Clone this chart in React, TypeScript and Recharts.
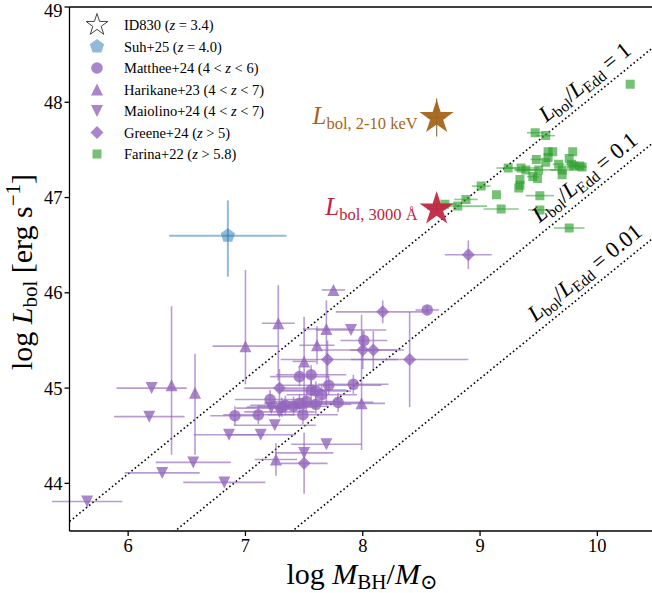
import React from 'react';
import { ScatterChart, Scatter, XAxis, YAxis, ErrorBar, ReferenceLine, ReferenceDot } from 'recharts';

// ---------- axes ----------
const X_DOMAIN: [number, number] = [5.5, 10.5];
const Y_DOMAIN: [number, number] = [43.5, 49];
const X_TICKS = [6, 7, 8, 9, 10];
const Y_TICKS = [44, 45, 46, 47, 48, 49];

// ---------- Eddington ratio lines ----------
const EDD_RATIOS = [1, 0.1, 0.01];
const EDD_LABELS = ['1', '0.1', '0.01'];
const LOG_LEDD_PER_MSUN = 38.1; // log10(1.26e38 erg/s)
const EDD_LABEL_M = 9.98;

// ---------- data ----------
type Pt = { m: number; l: number; xe: number | number[]; ye: number | number[] };

const id830Uv: Pt[] = [{ m: 8.63, l: 46.88, xe: 0.08, ye: 0.05 }];
const id830Xray: Pt[] = [{ m: 8.63, l: 47.84, xe: 0.08, ye: 0.2 }];

const suh25: Pt[] = [{ m: 6.85, l: 46.6, xe: 0.5, ye: [0.43, 0.37] }];

const matthee24: Pt[] = [
  { m: 8.55, l: 45.82, xe: 0.1, ye: 0.05 },
  { m: 8.01, l: 45.5, xe: 0.2, ye: 0.1 },
  { m: 7.46, l: 45.12, xe: 0.25, ye: 0.1 },
  { m: 7.56, l: 45.14, xe: 0.3, ye: 0.1 },
  { m: 7.71, l: 45.03, xe: 0.45, ye: 0.1 },
  { m: 7.92, l: 45.04, xe: 0.3, ye: 0.1 },
  { m: 7.56, l: 44.98, xe: 0.3, ye: 0.1 },
  { m: 7.6, l: 44.97, xe: 0.3, ye: 0.1 },
  { m: 7.65, l: 44.93, xe: 0.3, ye: 0.1 },
  { m: 7.21, l: 44.88, xe: 0.3, ye: 0.1 },
  { m: 7.79, l: 44.85, xe: 0.3, ye: 0.1 },
  { m: 6.91, l: 44.71, xe: 0.21, ye: 0.1 },
  { m: 7.11, l: 44.72, xe: 0.3, ye: 0.1 },
  { m: 7.34, l: 44.82, xe: 0.3, ye: 0.1 },
  { m: 7.41, l: 44.81, xe: 0.3, ye: 0.1 },
  { m: 7.46, l: 44.84, xe: 0.3, ye: 0.1 },
  { m: 7.49, l: 44.72, xe: 0.3, ye: 0.1 },
  { m: 7.52, l: 44.86, xe: 0.3, ye: 0.1 },
  { m: 7.31, l: 44.8, xe: 0.3, ye: 0.1 },
  { m: 7.6, l: 44.83, xe: 0.3, ye: 0.1 },
];

const harikane23: Pt[] = [
  { m: 6.37, l: 45.03, xe: 0, ye: [0.73, 0.83] },
  { m: 6.57, l: 44.95, xe: 0, ye: [0.65, 0.41] },
  { m: 7.0, l: 45.44, xe: 0.28, ye: [0.4, 0.8] },
  { m: 7.28, l: 45.68, xe: 0.14, ye: [0.6, 0.4] },
  { m: 7.75, l: 46.03, xe: 0.1, ye: 0 },
  { m: 7.5, l: 45.28, xe: 0.1, ye: [0.5, 0.47] },
  { m: 7.69, l: 45.62, xe: 0.2, ye: [0.8, 0.3] },
  { m: 7.61, l: 45.45, xe: 0.15, ye: 0.2 },
  { m: 7.99, l: 44.84, xe: 0.2, ye: [0.49, 0.93] },
  { m: 7.26, l: 44.25, xe: 0.18, ye: 0.17 },
];

const maiolino24: Pt[] = [
  { m: 5.65, l: 43.81, xe: 0.3, ye: 0 },
  { m: 6.2, l: 45.0, xe: 0.3, ye: 0 },
  { m: 6.18, l: 44.7, xe: 0.3, ye: 0 },
  { m: 6.86, l: 44.51, xe: 0.3, ye: 0 },
  { m: 7.13, l: 44.51, xe: 0.3, ye: 0 },
  { m: 6.555, l: 44.22, xe: 0.32, ye: 0 },
  { m: 6.29, l: 44.11, xe: 0.32, ye: 0 },
  { m: 6.82, l: 44.01, xe: 0.35, ye: 0 },
  { m: 7.9, l: 45.61, xe: 0.3, ye: 0 },
  { m: 7.22, l: 44.79, xe: 0.3, ye: 0 },
  { m: 7.25, l: 44.61, xe: 0.35, ye: 0 },
  { m: 7.29, l: 44.75, xe: 0.3, ye: 0 },
  { m: 7.69, l: 44.41, xe: 0.3, ye: 0 },
  { m: 7.5, l: 44.32, xe: 0.25, ye: 0 },
];

const greene24: Pt[] = [
  { m: 8.17, l: 45.8, xe: 0.4, ye: 0.12 },
  { m: 8.4, l: 45.3, xe: 0.5, ye: 0.5 },
  { m: 8.0, l: 45.4, xe: 0.35, ye: 0.2 },
  { m: 8.09, l: 45.4, xe: 0.2, ye: 0.2 },
  { m: 7.7, l: 45.3, xe: [0.4, 0.6], ye: 0.2 },
  { m: 7.29, l: 45.0, xe: 0.3, ye: 0.2 },
  { m: 7.5, l: 44.21, xe: 0.2, ye: 0.32 },
  { m: 8.9, l: 46.4, xe: 0.2, ye: 0.15 },
];

const farina22: Pt[] = [
  { m: 10.28, l: 48.19, xe: 0, ye: 0 },
  { m: 9.47, l: 47.68, xe: 0.07, ye: 0 },
  { m: 9.56, l: 47.65, xe: 0.08, ye: 0 },
  { m: 9.58, l: 47.48, xe: 0, ye: 0 },
  { m: 9.62, l: 47.48, xe: 0, ye: 0 },
  { m: 9.79, l: 47.48, xe: 0, ye: 0 },
  { m: 9.58, l: 47.42, xe: 0, ye: 0 },
  { m: 9.48, l: 47.4, xe: 0.05, ye: 0 },
  { m: 9.56, l: 47.37, xe: 0, ye: 0 },
  { m: 9.76, l: 47.41, xe: 0, ye: 0 },
  { m: 9.78, l: 47.35, xe: 0.05, ye: 0 },
  { m: 9.24, l: 47.31, xe: 0.1, ye: 0 },
  { m: 9.35, l: 47.31, xe: 0.15, ye: 0 },
  { m: 9.39, l: 47.29, xe: 0.1, ye: 0 },
  { m: 9.5, l: 47.29, xe: 0.2, ye: 0 },
  { m: 9.67, l: 47.35, xe: 0.05, ye: 0 },
  { m: 9.7, l: 47.29, xe: 0.1, ye: 0 },
  { m: 9.8, l: 47.33, xe: 0.05, ye: 0 },
  { m: 9.85, l: 47.33, xe: 0.05, ye: 0 },
  { m: 9.87, l: 47.32, xe: 0.04, ye: 0 },
  { m: 9.45, l: 47.22, xe: 0.05, ye: 0 },
  { m: 9.49, l: 47.2, xe: 0, ye: 0 },
  { m: 9.7, l: 47.24, xe: 0, ye: 0 },
  { m: 9.34, l: 47.19, xe: 0, ye: 0 },
  { m: 9.34, l: 47.13, xe: 0, ye: 0 },
  { m: 9.33, l: 47.1, xe: 0, ye: 0 },
  { m: 9.01, l: 47.12, xe: 0.08, ye: 0 },
  { m: 9.14, l: 47.03, xe: 0, ye: 0 },
  { m: 9.51, l: 47.02, xe: 0.12, ye: 0 },
  { m: 8.88, l: 46.98, xe: 0.1, ye: 0 },
  { m: 8.81, l: 46.91, xe: 0.25, ye: 0 },
  { m: 9.18, l: 46.88, xe: 0.15, ye: 0 },
  { m: 9.51, l: 46.87, xe: 0.1, ye: 0 },
  { m: 9.76, l: 46.68, xe: 0.13, ye: 0 },
  { m: 8.7, l: 46.93, xe: 0.1, ye: 0 },
];

// ---------- layout / style ----------
const CHART_W = 660;
const CHART_H = 593;
const MARGIN = { top: 7, right: 4, bottom: 0, left: 0 };
const YAXIS_W = 69.5;
const XAXIS_H = 62;
const PLOT_W = CHART_W - MARGIN.right - MARGIN.left - YAXIS_W;
const PLOT_H = CHART_H - MARGIN.top - MARGIN.bottom - XAXIS_H;
const LINE_ANGLE =
  (Math.atan((PLOT_H / (Y_DOMAIN[1] - Y_DOMAIN[0])) / (PLOT_W / (X_DOMAIN[1] - X_DOMAIN[0]))) * 180) / Math.PI;

const SERIF = '"Liberation Serif", "DejaVu Serif", serif';
const PURPLE = '#9467bd';
const GREEN = '#2ca02c';
const BLUE = '#1f77b4';
const RED = '#c0233e';
const BROWN = '#a4651b';

type Kind = 'star' | 'pentagon' | 'circle' | 'triUp' | 'triDown' | 'diamond' | 'square';

function polyD(cx: number, cy: number, pts: [number, number][]) {
  return pts.map((p, i) => `${i ? 'L' : 'M'}${(cx + p[0]).toFixed(2)},${(cy + p[1]).toFixed(2)}`).join('') + 'Z';
}

function markerD(kind: Kind, cx: number, cy: number, s: number): string {
  if (kind === 'star') {
    const pts: [number, number][] = [];
    for (let i = 0; i < 10; i++) {
      const a = -Math.PI / 2 + (i * Math.PI) / 5;
      const r = i % 2 === 0 ? s : s * 0.382;
      pts.push([r * Math.cos(a), r * Math.sin(a)]);
    }
    return polyD(cx, cy, pts);
  }
  if (kind === 'pentagon') {
    const pts: [number, number][] = [];
    for (let i = 0; i < 5; i++) {
      const a = -Math.PI / 2 + (i * 2 * Math.PI) / 5;
      pts.push([s * Math.cos(a), s * Math.sin(a)]);
    }
    return polyD(cx, cy, pts);
  }
  if (kind === 'triUp') return polyD(cx, cy, [[0, -s], [-s, s], [s, s]]);
  if (kind === 'triDown') return polyD(cx, cy, [[0, s], [-s, -s], [s, -s]]);
  if (kind === 'diamond') return polyD(cx, cy, [[0, -s], [s, 0], [0, s], [-s, 0]]);
  if (kind === 'square') return polyD(cx, cy, [[-s, -s], [s, -s], [s, s], [-s, s]]);
  return `M${cx - s},${cy}a${s},${s} 0 1,0 ${2 * s},0a${s},${s} 0 1,0 ${-2 * s},0Z`;
}

const makeShape = (kind: Kind, size: number, fill: string, opacity: number) => (p: any) => {
  if (p == null || p.cx == null || p.cy == null) return <g />;
  return <path d={markerD(kind, p.cx, p.cy, size)} fill={fill} fillOpacity={opacity} stroke="none" />;
};

type SeriesDef = {
  name: string;
  data: Pt[];
  kind: Kind;
  size: number;
  color: string;
  alpha: number;
  barColor: string;
  barAlpha: number;
  barWidth: number;
};

const SERIES: SeriesDef[] = [
  { name: 'Suh+25', data: suh25, kind: 'pentagon', size: 7.5, color: BLUE, alpha: 0.5, barColor: BLUE, barAlpha: 0.5, barWidth: 2 },
  { name: 'Matthee+24', data: matthee24, kind: 'circle', size: 5.8, color: PURPLE, alpha: 0.8, barColor: PURPLE, barAlpha: 0.65, barWidth: 1.6 },
  { name: 'Harikane+23', data: harikane23, kind: 'triUp', size: 6, color: PURPLE, alpha: 0.8, barColor: PURPLE, barAlpha: 0.65, barWidth: 1.6 },
  { name: 'Maiolino+24', data: maiolino24, kind: 'triDown', size: 6, color: PURPLE, alpha: 0.8, barColor: PURPLE, barAlpha: 0.65, barWidth: 1.6 },
  { name: 'Greene+24', data: greene24, kind: 'diamond', size: 6.5, color: PURPLE, alpha: 0.8, barColor: PURPLE, barAlpha: 0.65, barWidth: 1.6 },
  { name: 'Farina+22', data: farina22, kind: 'square', size: 4.5, color: GREEN, alpha: 0.65, barColor: GREEN, barAlpha: 0.55, barWidth: 1.6 },
  { name: 'ID830 3000', data: id830Uv, kind: 'star', size: 18, color: RED, alpha: 0.92, barColor: '#7a1020', barAlpha: 0.6, barWidth: 1.2 },
  { name: 'ID830 X-ray', data: id830Xray, kind: 'star', size: 18, color: BROWN, alpha: 0.95, barColor: '#5a3505', barAlpha: 0.7, barWidth: 1.2 },
];

// ---------- legend ----------
const LEGEND_ITEMS: { kind: Kind; color: string; alpha: number; size: number; label: React.ReactNode; hollow?: boolean }[] = [
  { kind: 'star', color: '#444', alpha: 1, size: 11.5, hollow: true, label: <>ID830 (<tspan fontStyle="italic">z</tspan> = 3.4)</> },
  { kind: 'pentagon', color: BLUE, alpha: 0.5, size: 7.5, label: <>Suh+25 (<tspan fontStyle="italic">z</tspan> = 4.0)</> },
  { kind: 'circle', color: PURPLE, alpha: 0.8, size: 5.8, label: <>Matthee+24 (4 &lt; <tspan fontStyle="italic">z</tspan> &lt; 6)</> },
  { kind: 'triUp', color: PURPLE, alpha: 0.8, size: 6, label: <>Harikane+23 (4 &lt; <tspan fontStyle="italic">z</tspan> &lt; 7)</> },
  { kind: 'triDown', color: PURPLE, alpha: 0.8, size: 6, label: <>Maiolino+24 (4 &lt; <tspan fontStyle="italic">z</tspan> &lt; 7)</> },
  { kind: 'diamond', color: PURPLE, alpha: 0.8, size: 6.5, label: <>Greene+24 (<tspan fontStyle="italic">z</tspan> &gt; 5)</> },
  { kind: 'square', color: GREEN, alpha: 0.65, size: 4.5, label: <>Farina+22 (<tspan fontStyle="italic">z</tspan> &gt; 5.8)</> },
];

const eddLine = (m: number, r: number) => m + LOG_LEDD_PER_MSUN + Math.log10(r);

const EddLabel = (text: string) => (p: any) => {
  const { cx, cy } = p;
  return (
    <text
      x={cx}
      y={cy - 9}
      transform={`rotate(${-LINE_ANGLE} ${cx} ${cy})`}
      textAnchor="middle"
      fontFamily={SERIF}
      fontSize={22.5}
      fill="#000"
    >
      <tspan fontStyle="italic">L</tspan>
      <tspan fontSize={15.5} dy={4}>bol</tspan>
      <tspan dy={-4}>/</tspan>
      <tspan fontStyle="italic">L</tspan>
      <tspan fontSize={15.5} dy={4}>Edd</tspan>
      <tspan dy={-4}> = {text}</tspan>
    </text>
  );
};

const StarLabel = (sub: string, color: string) => (p: any) => {
  const { cx, cy } = p;
  return (
    <text x={cx - 19} y={cy + 6} textAnchor="end" fontFamily={SERIF} fontSize={25} fill={color}>
      <tspan fontStyle="italic">L</tspan>
      <tspan fontSize={16.5} dy={5}>{sub}</tspan>
    </text>
  );
};

export default function App() {
  return (
    <div style={{ position: 'absolute', left: 0, top: 0, width: 652, height: 593, overflow: 'hidden', background: '#fff' }}>
      <ScatterChart width={CHART_W} height={CHART_H} margin={MARGIN}>
        <XAxis
          type="number"
          dataKey="m"
          domain={X_DOMAIN}
          ticks={X_TICKS}
          allowDataOverflow
          height={XAXIS_H}
          tickSize={5}
          tickMargin={3}
          stroke="#000"
          strokeWidth={1.3}
          tick={{ fill: '#000', fontSize: 18.5, fontFamily: SERIF }}
        />
        <YAxis
          type="number"
          dataKey="l"
          domain={Y_DOMAIN}
          ticks={Y_TICKS}
          allowDataOverflow
          width={YAXIS_W}
          tickSize={5}
          tickMargin={2}
          stroke="#000"
          strokeWidth={1.3}
          tick={{ fill: '#000', fontSize: 18.5, fontFamily: SERIF }}
        />
        <ReferenceLine y={Y_DOMAIN[1]} stroke="#000" strokeWidth={1.3} />
        <ReferenceLine x={X_DOMAIN[1]} stroke="#000" strokeWidth={1.3} />
        {EDD_RATIOS.map((r) => (
          <ReferenceLine
            key={'edd' + r}
            segment={[
              { x: X_DOMAIN[0] - 1, y: eddLine(X_DOMAIN[0] - 1, r) },
              { x: X_DOMAIN[1] + 1, y: eddLine(X_DOMAIN[1] + 1, r) },
            ]}
            ifOverflow="hidden"
            stroke="#000"
            strokeWidth={1.6}
            strokeDasharray="1.6 2.6"
          />
        ))}
        {SERIES.map((s) => (
          <Scatter
            key={s.name}
            name={s.name}
            data={s.data}
            isAnimationActive={false}
            shape={makeShape(s.kind, s.size, s.color, s.alpha)}
          >
            <ErrorBar dataKey="xe" direction="x" width={0} stroke={s.barColor} strokeOpacity={s.barAlpha} strokeWidth={s.barWidth} />
            <ErrorBar dataKey="ye" direction="y" width={0} stroke={s.barColor} strokeOpacity={s.barAlpha} strokeWidth={s.barWidth} />
          </Scatter>
        ))}
        {EDD_RATIOS.map((r, i) => (
          <ReferenceDot
            key={'eddlab' + r}
            x={EDD_LABEL_M}
            y={eddLine(EDD_LABEL_M, r)}
            r={0}
            ifOverflow="visible"
            shape={EddLabel(EDD_LABELS[i])}
          />
        ))}
        <ReferenceDot x={id830Xray[0].m} y={id830Xray[0].l} r={0} shape={StarLabel('bol, 2-10 keV', BROWN)} />
        <ReferenceDot x={id830Uv[0].m} y={id830Uv[0].l} r={0} shape={StarLabel('bol, 3000 Å', RED)} />
      </ScatterChart>
      <svg
        width={652}
        height={593}
        style={{ position: 'absolute', left: 0, top: 0, pointerEvents: 'none' }}
      >
        {LEGEND_ITEMS.map((it, i) => {
          const cy = 25 + i * 21.5;
          return (
            <g key={i}>
              <path
                d={markerD(it.kind, 97, cy, it.size)}
                fill={it.hollow ? 'none' : it.color}
                fillOpacity={it.alpha}
                stroke={it.hollow ? it.color : 'none'}
                strokeWidth={1}
              />
              <text x={124} y={cy + 5} fontFamily={SERIF} fontSize={14.5} fill="#000">
                {it.label}
              </text>
            </g>
          );
        })}
        <text x={362} y={584} textAnchor="middle" fontFamily={SERIF} fontSize={30} fill="#000">
          log <tspan fontStyle="italic">M</tspan>
          <tspan fontSize={21} dy={5}>BH</tspan>
          <tspan dy={-5}>/</tspan>
          <tspan fontStyle="italic">M</tspan>
          <tspan fontSize={21} dy={5}>⊙</tspan>
        </text>
        <text transform="translate(32,272) rotate(-90)" textAnchor="middle" fontFamily={SERIF} fontSize={30} fill="#000">
          log <tspan fontStyle="italic">L</tspan>
          <tspan fontSize={21} dy={5}>bol</tspan>
          <tspan dy={-5}> [erg s</tspan>
          <tspan fontSize={21} dy={-12}>−1</tspan>
          <tspan dy={12}>]</tspan>
        </text>
      </svg>
    </div>
  );
}
